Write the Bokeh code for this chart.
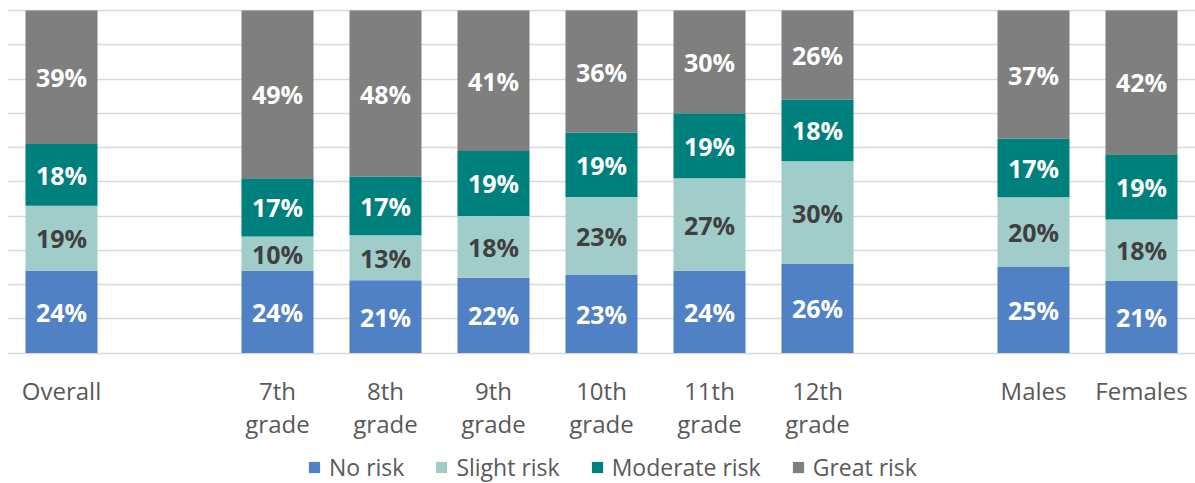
from bokeh.plotting import figure
from bokeh.models import Range1d, FixedTicker, Legend, LegendItem, ColumnDataSource
from bokeh.core.properties import value
from bokeh.embed import file_html
from bokeh.resources import INLINE

# ---- data ----
slots = ["Overall", "", "7th\ngrade", "8th\ngrade", "9th\ngrade", "10th\ngrade",
         "11th\ngrade", "12th\ngrade", "", "Males", "Females"]
no_risk = [24, 24, 21, 22, 23, 24, 26, 25, 21]
slight_risk = [19, 10, 13, 18, 23, 27, 30, 20, 18]
moderate_risk = [18, 17, 17, 19, 19, 19, 18, 17, 19]
great_risk = [39, 49, 48, 41, 36, 30, 26, 37, 42]
series_names = ["No risk", "Slight risk", "Moderate risk", "Great risk"]
colors = ["#4F81C4", "#A0CCCA", "#00807C", "#7F7F7F"]
label_colors = ["#FFFFFF", "#404040", "#FFFFFF", "#FFFFFF"]

series = [no_risk, slight_risk, moderate_risk, great_risk]
xs = [i for i, s in enumerate(slots) if s]
labels = [s for s in slots if s]
totals = [sum(v) for v in zip(*series)]
keys = ["s0", "s1", "s2", "s3"]

data = {"x": xs}
for k, vals in zip(keys, series):
    data[k] = [v / t for v, t in zip(vals, totals)]
src = ColumnDataSource(data)

# frame spans the whole canvas below the top border; 0..1 occupies the upper part
p = figure(frame_width=1188, frame_height=475, output_backend="svg", toolbar_location=None,
           x_range=Range1d(-0.5, 10.5), y_range=Range1d(-0.38102, 1.00584),
           min_border_left=7, min_border_right=0, min_border_top=8, min_border_bottom=0)
p.outline_line_color = None
p.background_fill_color = "white"
p.xaxis.visible = False
p.yaxis.visible = False

renderers = p.vbar_stack(keys, x="x", width=0.667, color=colors, line_color=None, source=src)

# data labels
bottom = [0.0] * len(xs)
for k, vals, tc in zip(keys, series, label_colors):
    fr = data[k]
    mids = [b + f / 2 for b, f in zip(bottom, fr)]
    bottom = [b + f for b, f in zip(bottom, fr)]
    lsrc = ColumnDataSource(dict(x=xs, y=mids, t=[f"{v}%" for v in vals]))
    p.text(x="x", y="y", text="t", source=lsrc, text_color=tc,
           text_font=value("Open Sans"), text_font_style="bold", text_font_size="25px",
           text_align="center", text_baseline="middle")

# category labels under the bars (anchored at y = 0)
csrc = ColumnDataSource(dict(x=xs, y=[0] * len(xs), t=labels))
p.text(x="x", y="y", text="t", source=csrc, y_offset=21,
       text_color="#595959", text_font=value("Open Sans"), text_font_size="24px",
       text_align="center", text_baseline="top", text_line_height=1.0)

# grid
p.xgrid.visible = False
p.ygrid.ticker = FixedTicker(ticks=[i / 10 for i in range(11)])
p.ygrid.grid_line_color = "#D9D9D9"
p.ygrid.grid_line_width = 1.5

legend = Legend(items=[LegendItem(label=n, renderers=[r]) for n, r in zip(series_names, renderers)],
                orientation="horizontal", location=(300, 0),
                label_text_font="Open Sans", label_text_font_size="23px",
                label_text_color="#595959", glyph_width=14, glyph_height=14,
                spacing=30, label_standoff=8, padding=0, margin=0,
                border_line_color=None, background_fill_alpha=0)
p.add_layout(legend, "center")

open("out.html", "w").write(file_html(p, INLINE))
